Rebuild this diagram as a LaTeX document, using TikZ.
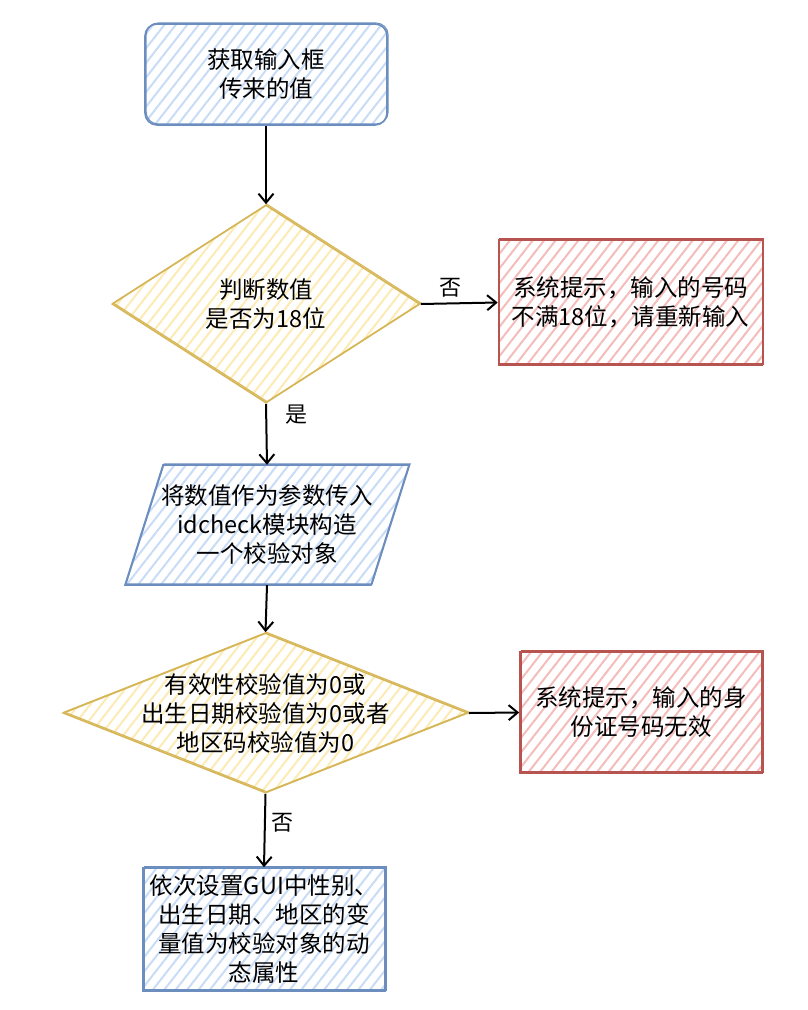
\documentclass[tikz,border=0pt]{standalone}
\usepackage{fontspec}
\setmainfont{Noto Sans CJK SC}
\usetikzlibrary{shapes.geometric,arrows.meta,patterns.meta}
\definecolor{bstroke}{HTML}{6C8EBF}
\definecolor{bfill}{HTML}{C9DCF7}
\definecolor{ystroke}{HTML}{D6B656}
\definecolor{yfill}{HTML}{FDEBB5}
\definecolor{rstroke}{HTML}{B85450}
\definecolor{rfill}{HTML}{F4BDBC}
\begin{document}
\begin{tikzpicture}[x=1pt,y=-1pt,
  every node/.style={font=\fontsize{23.5pt}{29pt}\selectfont, align=center, text=black},
  hach/.style={pattern={Lines[angle=52,distance=9pt,line width=2pt]}, pattern color=#1},
  sketch/.style={draw=#1, line width=1.6pt,
    postaction={draw=#1, line width=1.1pt, transform canvas={shift={(1.1pt,1pt)}}}},
  blueshape/.style={sketch=bstroke, hach=bfill},
  yelshape/.style={sketch=ystroke, hach=yfill},
  redshape/.style={sketch=rstroke, hach=rfill},
  arr/.style={draw=black, line width=2pt, -{Straight Barb[length=9pt,width=15pt,line width=2pt]}},
  lbl/.style={font=\fontsize{22pt}{26pt}\selectfont}
]
\path[fill=white, use as bounding box] (0,0) rectangle (808,1010);

% start box
\node[blueshape, rounded corners=12pt, minimum width=242pt, minimum height=101pt] (b1) at (266,74.5) {获取输入框\\传来的值};

% first decision
\node[yelshape, diamond, inner sep=0pt, minimum width=308pt, minimum height=198pt] (d1) at (266,304) {};
\node (d1t) at (d1.center) {判断数值\\是否为18位};

% first error box
\node[redshape, minimum width=264pt, minimum height=125pt] (r1) at (630.5,302.5) {系统提示，输入的号码\\不满18位，请重新输入};

% parallelogram
\path[blueshape] (163,465) -- (409,465) -- (371,585) -- (125,585) -- cycle;
\node[inner sep=0pt, minimum width=246pt, minimum height=120pt] (p1) at (267,525) {将数值作为参数传入\\idcheck模块构造\\一个校验对象};

% second decision
\node[yelshape, diamond, inner sep=0pt, minimum width=405pt, minimum height=160pt] (d2) at (265.5,713) {};
\node (d2t) at (d2.center) {有效性校验值为0或\\出生日期校验值为0或者\\地区码校验值为0};

% second error box
\node[redshape, minimum width=242pt, minimum height=121pt] (r2) at (641,712.5) {系统提示，输入的身\\份证号码无效};

% final box
\node[blueshape, minimum width=242pt, minimum height=123pt] (b3) at (264,929.5) {依次设置GUI中性别、\\出生日期、地区的变\\量值为校验对象的动\\态属性};

% connectors
\draw[arr] (b1.south) -- (d1.north);
\draw[arr] (d1.east) -- node[lbl, pos=0.38, above=2pt] {否} (r1.west);
\draw[arr] (d1.south) -- node[lbl, pos=0.17, xshift=30pt] {是} (p1.north);
\draw[arr] (p1.south) -- (d2.north);
\draw[arr] (d2.east) -- (r2.west);
\draw[arr] (d2.south) -- node[lbl, pos=0.39, xshift=18pt] {否} (b3.north);
\end{tikzpicture}
\end{document}
